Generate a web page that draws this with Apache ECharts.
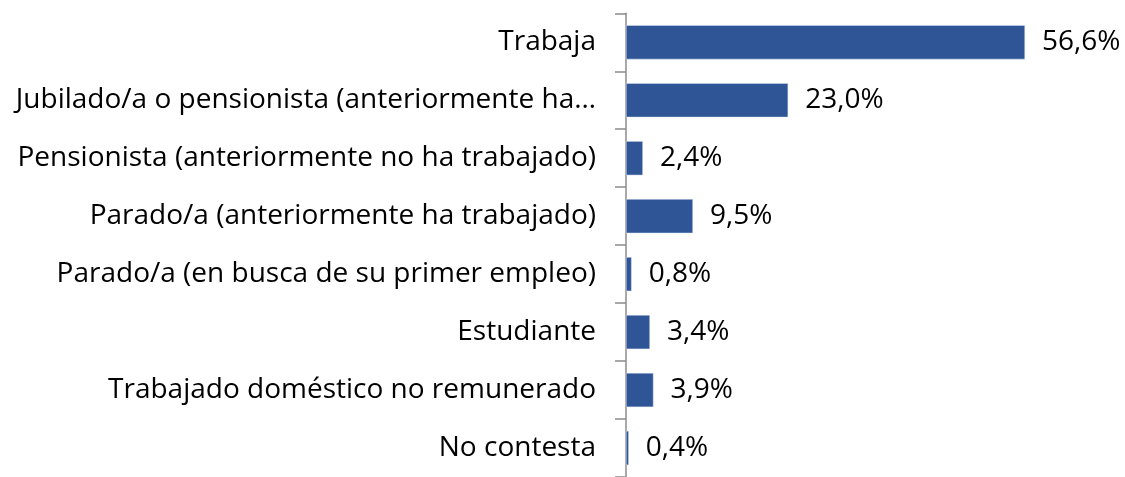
<!DOCTYPE html>
<html><head><meta charset="utf-8">
<script src="https://cdn.jsdelivr.net/npm/echarts@6/dist/echarts.min.js"></script>
<style>html,body{margin:0;padding:0;background:#fff}#c{width:1125px;height:477px}</style>
</head><body><div id="c"></div>
<script>
const categories = ["Trabaja","Jubilado/a o pensionista (anteriormente ha…","Pensionista (anteriormente no ha trabajado)","Parado/a (anteriormente ha trabajado)","Parado/a (en busca de su primer empleo)","Estudiante","Trabajado doméstico no remunerado","No contesta"];
const values = [56.6,23.0,2.4,9.5,0.8,3.4,3.9,0.4];
const FONT = "Open Sans";
const chart = echarts.init(document.getElementById('c'), null, {renderer:'canvas'});
chart.setOption({
  animation:false,
  grid:{left:626, top:13.3, width:423, height:468, containLabel:false},
  xAxis:{type:'value', min:0, max:60, show:false},
  yAxis:{type:'category', inverse:true, data:categories,
    axisLine:{show:true, lineStyle:{color:'#8c8c8c', width:1.5}},
    axisTick:{show:true, length:11, lineStyle:{color:'#8c8c8c', width:1.5}},
    axisLabel:{color:'#000', fontFamily:FONT, fontSize:28, margin:30, padding:[4,0,0,0]}
  },
  series:[{type:'bar', data:values, barWidth:'59%',
    itemStyle:{color:'#2F5597', borderColor:'#e0e6f2', borderWidth:0.5},
    label:{show:true, position:'right', distance:17, color:'#000', fontFamily:FONT, fontSize:28, padding:[4,0,0,0],
      formatter:p=>p.value.toFixed(1).replace('.',',')+'%'}
  }]
});
</script></body></html>
